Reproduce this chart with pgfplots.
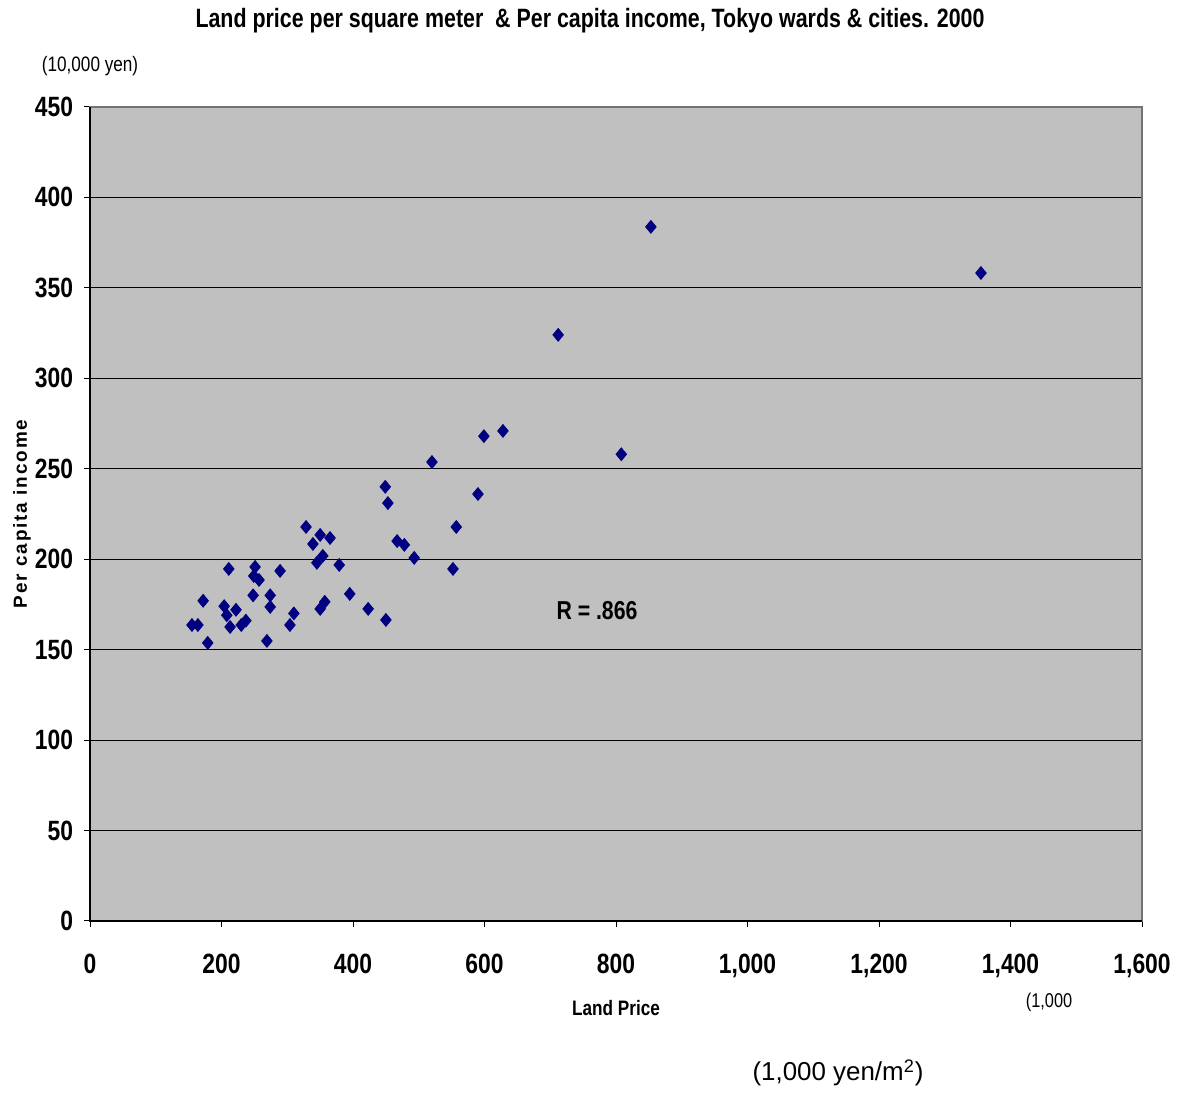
\documentclass[border=0pt]{standalone}
\usepackage{pgfplots}
\pgfplotsset{compat=1.18}
\usepackage{fontspec}
\setmainfont{Liberation Sans}
\newfontfamily\narrow[FakeStretch=0.82]{Liberation Sans}
\definecolor{navy}{HTML}{000080}
\definecolor{plotbg}{HTML}{C0C0C0}
\begin{document}
\begin{tikzpicture}
\begin{axis}[
  scale only axis,
  width=526bp, height=407bp,
  xmin=0, xmax=1600, ymin=0, ymax=450,
  xtick={0,200,...,1600}, ytick={0,50,...,450},
  axis background/.style={fill=plotbg},
  axis line style={draw=black!55, line width=0.6bp},
  ymajorgrids, grid style={black, line width=0.5bp},
  tick align=outside, tick pos=left,
  major tick length=3bp,
  tick style={black, line width=0.5bp},
  /pgf/number format/assume math mode=true,
  /pgf/number format/set thousands separator={,},
  ticklabel style={font=\narrow\bfseries\fontsize{14}{14}\selectfont},
  xticklabel style={yshift=-10bp},
  yticklabel style={xshift=-2bp},
  clip=false,
]
\path (rel axis cs:-0.0856,-0.2113) rectangle (rel axis cs:1.0361,1.1314);
\draw[black, line width=0.6bp] (rel axis cs:0,1) -- (rel axis cs:0,0) -- (rel axis cs:1,0);
\addplot[only marks, mark=diamond*, mark size=3.2bp, mark options={fill=navy, draw=navy, xscale=1.1}] coordinates {
(155,163.6) (164,163.6) (172,177) (179,153.7) (204,174) (208,169) (211,194.6)
(213,162.5) (222,172) (230,163.6) (237,166) (248,180) (249,190.7) (251,195.7)
(257,188.5) (269,154.8) (274,180) (274,173.6) (289,193.5) (304,163.6) (310,170)
(328.5,217.8) (339,208.4) (345,198) (350,213.4) (350,172.5) (354,201.8) (357,176.4)
(365,211.7) (379,196.8) (395,180.8) (423,172.5) (449,240) (450,166.4) (453,231)
(467,210) (478,207.9) (493,200.7) (520,253.7) (552,194.6) (557,217.8) (590,236)
(599,268) (628,270.9) (712,324) (808,258) (853,383.7) (1355,358.2)
};
\node[font=\narrow\bfseries\fontsize{13.3}{14}\selectfont, xscale=0.985] at (rel axis cs:0.4753,1.1057) {Land price per square meter\ \ \& Per capita income, Tokyo wards \& cities. 2000};
\node[font=\narrow\fontsize{10.5}{11}\selectfont] at (rel axis cs:0,1.0504) {(10,000 yen)};
\node[font=\bfseries\fontsize{9.5}{10}\selectfont, rotate=90] at (rel axis cs:-0.0646,0.5000) {\addfontfeature{LetterSpace=10}Per capita income};
\node[font=\narrow\bfseries\fontsize{10.5}{11}\selectfont] at (rel axis cs:0.5000,-0.1069) {Land Price};
\node[font=\narrow\fontsize{10}{11}\selectfont] at (rel axis cs:0.9116,-0.0995) {(1,000};
\node[font=\fontsize{13}{14}\selectfont] at (rel axis cs:0.7110,-0.1867) {(1,000 yen/m\textsuperscript{2})};
\node[font=\narrow\bfseries\fontsize{13}{14}\selectfont] at (rel axis cs:0.4819,0.3808) {R = .866};
\end{axis}
\end{tikzpicture}
\end{document}
